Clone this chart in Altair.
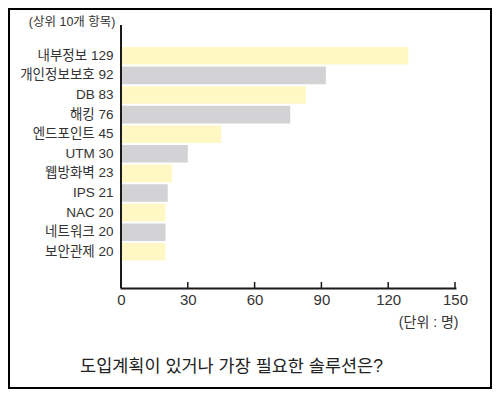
import altair as alt
import pandas as pd

categories = ["내부정보", "개인정보보호", "DB", "해킹", "엔드포인트", "UTM",
              "웹방화벽", "IPS", "NAC", "네트워크", "보안관제"]
counts = [129, 92, 83, 76, 45, 30, 23, 21, 20, 20, 20]
x_ticks = [0, 30, 60, 90, 120, 150]
top_note = "(상위 10개 항목)"
unit_note = "(단위 : 명)"
question = "도입계획이 있거나 가장 필요한 솔루션은?"

labels = [f"{c} {v}" for c, v in zip(categories, counts)]
df = pd.DataFrame({
    "label": labels,
    "count": counts,
    "band": [i % 2 for i in range(len(labels))],
})

FONT = "Liberation Sans, Noto Sans CJK KR"
TXT = "#333333"
LINE = "#1a1a1a"

x_scale = alt.Scale(domain=[0, 150], nice=False)
y_scale = alt.Scale(domain=labels, paddingInner=0.1, paddingOuter=0.05, range=[21, 236.6])

x_axis = alt.Axis(values=x_ticks, title=unit_note, titleX=337, titleY=34,
                  titleAlign="right", titleBaseline="middle", titleAngle=0,
                  titleFont=FONT, titleFontSize=14, titleFontWeight="normal",
                  titleColor=TXT, grid=False, ticks=False, labelPadding=4,
                  labelFont=FONT, labelFontSize=15, labelColor=TXT,
                  domainColor=LINE, domainWidth=2, domainCap="square",
                  labelFlush=False, zindex=1)

bars = alt.Chart(df).mark_bar(strokeWidth=0).encode(
    x=alt.X("count:Q", scale=x_scale, axis=x_axis),
    y=alt.Y("label:N", sort=labels, scale=y_scale,
            axis=alt.Axis(title=top_note, titleX=-6, titleY=-4, titleAngle=0,
                          titleAlign="right", titleBaseline="middle",
                          titleFont=FONT, titleFontSize=12.5, titleFontWeight="normal",
                          titleColor=TXT, ticks=False, labelPadding=8,
                          labelFont=FONT, labelFontSize=13.5, labelColor=TXT,
                          domain=False, zindex=1)),
    color=alt.Color("band:N", scale=alt.Scale(domain=[0, 1], range=["#FFF8C4", "#D3D3D5"]),
                    legend=None),
)

y_line = alt.Chart(pd.DataFrame({"b": [0]})).mark_rule(
    color=LINE, strokeWidth=2
).encode(x=alt.value(0), y=alt.value(0), y2=alt.value(263))

ticks = alt.Chart(pd.DataFrame({"count": x_ticks})).mark_rule(
    color=LINE, strokeWidth=1.5
).encode(
    x=alt.X("count:Q", scale=x_scale, axis=x_axis),
    y=alt.value(257),
    y2=alt.value(263),
)

title_text = alt.Chart(pd.DataFrame({"t": [question]})).mark_text(
    font=FONT, fontSize=17.5, color="#222222", align="center", baseline="middle"
).encode(text="t:N", x=alt.value(110.5), y=alt.value(342))

border = alt.Chart(pd.DataFrame({"b": [0]})).mark_rect(
    fill="white", fillOpacity=0, stroke="black", strokeWidth=2
).encode(x=alt.value(-112), x2=alt.value(370), y=alt.value(-16), y2=alt.value(363))

chart = alt.layer(bars, y_line, ticks, title_text, border).properties(
    width=334, height=263,
    padding={"left": 113, "top": 17, "right": 37, "bottom": 101},
    autosize=alt.AutoSizeParams(type="none"),
).configure_view(stroke=None)

chart.save("out.html", embed_options={"renderer": "svg", "actions": False})
